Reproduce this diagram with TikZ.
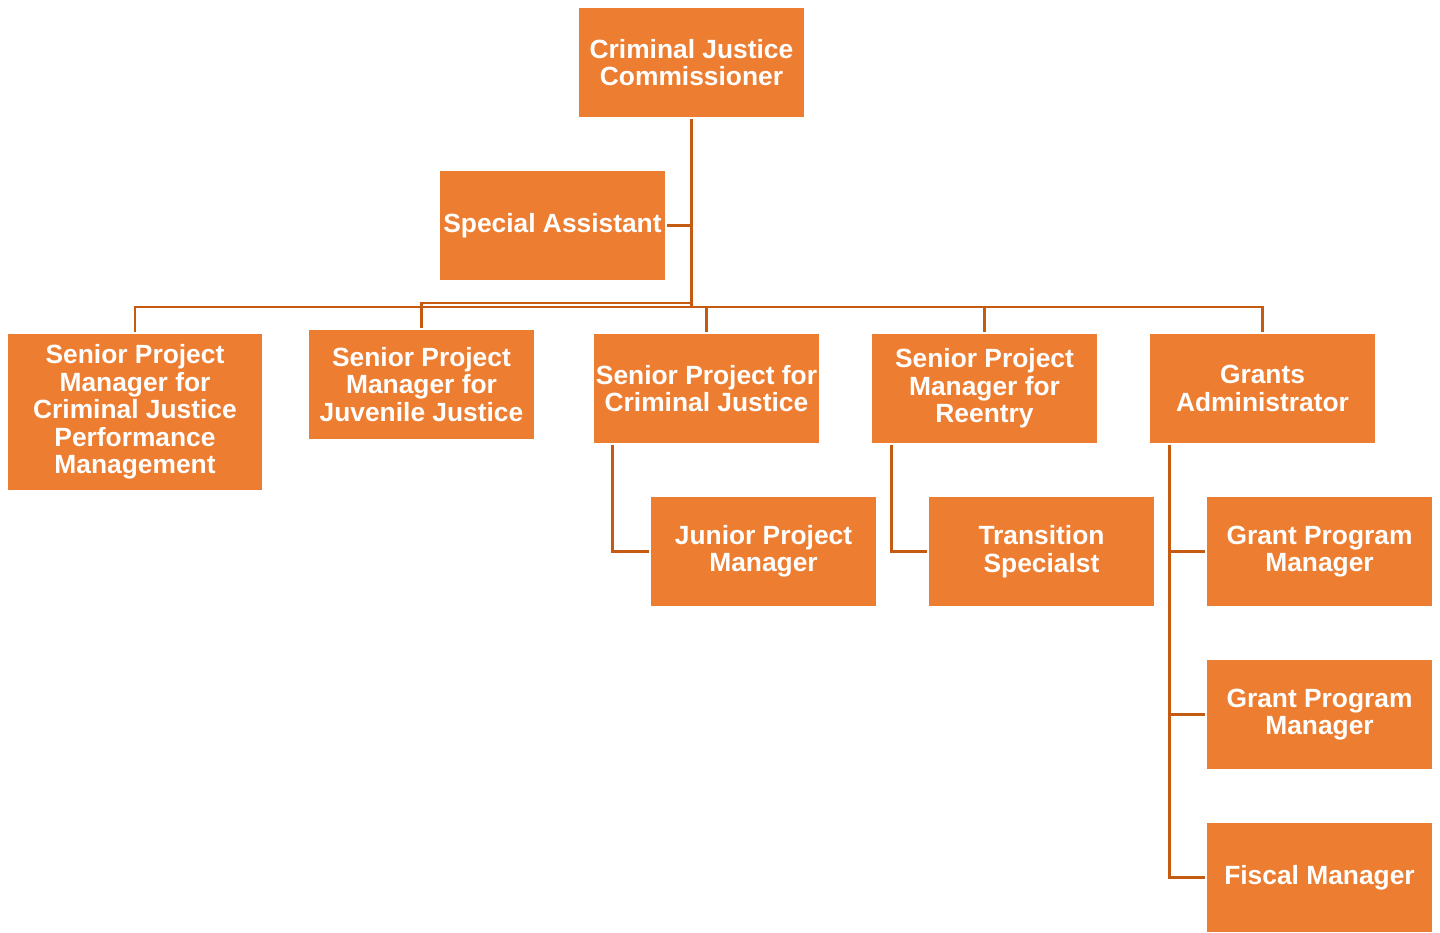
\documentclass[tikz,border=0pt]{standalone}
\usepackage{fontspec}
\setmainfont{Liberation Sans}
\usepackage{tikz}
\usetikzlibrary{positioning,calc}
\usepackage{xcolor}
\definecolor{CJCorange}{RGB}{237,125,49}
\definecolor{CJCline}{RGB}{197,90,17}

\begin{document}
\begin{tikzpicture}[every node/.style={font=\bfseries\fontsize{15}{15.6}\selectfont}, post/.style={fill=CJCorange,text=white,draw=white,line width=0.6pt,inner sep=0pt,minimum width=4.54cm,minimum height=2.22cm,align=center}, link/.style={draw=CJCline,line width=1.4pt}]
\useasboundingbox (0,0) rectangle (28.8,-18.66);
\node[post] (com) at (13.83,-1.25) {Criminal Justice\\Commissioner};
\node[post] (sa) at (11.05,-4.51) {Special Assistant};
\node[post,minimum width=5.12cm,minimum height=3.16cm] (pm) at (2.7,-8.24) {Senior Project\\Manager for\\Criminal Justice\\Performance\\Management};
\node[post] (jj) at (8.43,-7.69) {Senior Project\\Manager for\\Juvenile Justice};
\node[post] (cj) at (14.13,-7.77) {Senior Project for\\Criminal Justice};
\node[post] (re) at (19.69,-7.77) {Senior Project\\Manager for\\Reentry};
\node[post] (ga) at (25.25,-7.77) {Grants\\Administrator};
\node[post] (jpm) at (15.27,-11.03) {Junior Project\\Manager};
\node[post] (ts) at (20.83,-11.03) {Transition\\Specialst};
\node[post] (gp1) at (26.39,-11.03) {Grant Program\\Manager};
\node[post] (gp2) at (26.39,-14.29) {Grant Program\\Manager};
\node[post] (fm) at (26.39,-17.55) {Fiscal Manager};
\coordinate (bus) at (13.83,-6.14);
\coordinate (jbus) at (13.83,-6.06);
\draw[link] (com.south) -- (bus);
\draw[link] (sa.east) -- (sa.east -| com.south);
\draw[link] (jbus) -| (jj.north);
\foreach \x in {pm,cj,re,ga}{\draw[link] (bus) -| (\x.north);}
\draw[link] ([xshift=4mm]cj.south west) |- (jpm.west);
\draw[link] ([xshift=4.2mm]re.south west) |- (ts.west);
\foreach \x in {gp1,gp2,fm}{\draw[link] ([xshift=4.2mm]ga.south west) |- (\x.west);}
\end{tikzpicture}
\end{document}
